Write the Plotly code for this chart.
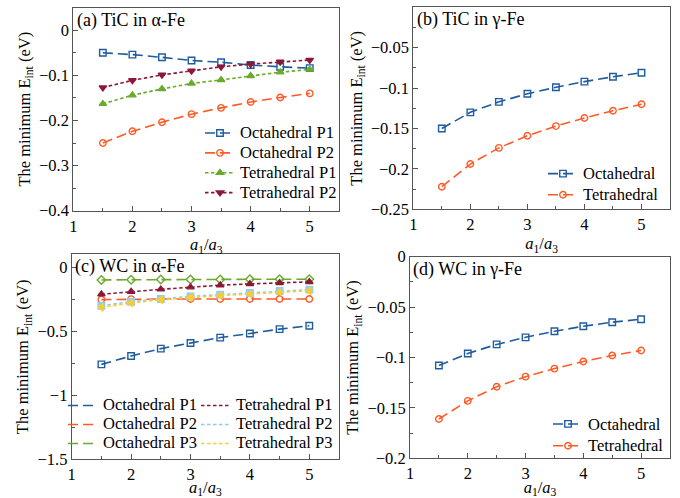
import plotly.graph_objects as go

# ---------------- data ----------------
ratio = [1.5, 2, 2.5, 3, 3.5, 4, 4.5, 5]

# (a) TiC in α-Fe
a_oct_p1 = [-0.050, -0.054, -0.060, -0.067, -0.071, -0.077, -0.081, -0.084]
a_oct_p2 = [-0.250, -0.224, -0.204, -0.186, -0.172, -0.159, -0.149, -0.140]
a_tet_p1 = [-0.163, -0.144, -0.130, -0.118, -0.110, -0.101, -0.093, -0.087]
a_tet_p2 = [-0.127, -0.111, -0.099, -0.090, -0.081, -0.075, -0.070, -0.066]

# (b) TiC in γ-Fe
b_oct = [-0.150, -0.130, -0.117, -0.107, -0.099, -0.092, -0.086, -0.081]
b_tet = [-0.222, -0.194, -0.174, -0.159, -0.147, -0.137, -0.128, -0.120]

# (c) WC in α-Fe
c_oct_p1 = [-0.759, -0.694, -0.636, -0.592, -0.550, -0.518, -0.484, -0.458]
c_oct_p2 = [-0.254, -0.250, -0.249, -0.249, -0.249, -0.249, -0.249, -0.249]
c_oct_p3 = [-0.100, -0.098, -0.097, -0.096, -0.096, -0.095, -0.095, -0.095]
c_tet_p1 = [-0.212, -0.191, -0.173, -0.157, -0.141, -0.131, -0.123, -0.115]
c_tet_p2 = [-0.301, -0.270, -0.249, -0.228, -0.215, -0.202, -0.186, -0.176]
c_tet_p3 = [-0.314, -0.280, -0.254, -0.236, -0.222, -0.210, -0.196, -0.184]

# (d) WC in γ-Fe
d_oct = [-0.108, -0.096, -0.087, -0.080, -0.074, -0.069, -0.065, -0.062]
d_tet = [-0.161, -0.143, -0.129, -0.119, -0.111, -0.104, -0.098, -0.093]

panel_titles = ["(a) TiC in α-Fe", "(b) TiC in γ-Fe", "(c) WC in α-Fe", "(d) WC in γ-Fe"]

# ---------------- style ----------------
FONT = "'Liberation Serif', 'Times New Roman', Times, serif"
BLUE = "#1f5c9e"
ORANGE = "#ff5a26"
GREEN = "#6aaa2c"
DRED = "#8c1838"
LBLUE = "#8fcdf5"
YELLOW = "#ffcb2e"
OCT_DASH = "10px,5px"
TET_DASH = "3.5px,2.5px"
LW = 1.6


def big(name):
    return '<span style="font-size:16.5px">' + name + '</span>'


fig = go.Figure()


def add(x, y, name, color, dash, symbol, xa, ya, legend, showlegend=True, mode="lines+markers"):
    fig.add_trace(go.Scatter(
        x=x, y=y, name=big(name), mode=mode,
        line=dict(color=color, dash=dash, width=LW),
        marker=dict(symbol=symbol, size=6.5, color=color, line=dict(color=color, width=1.4)),
        xaxis=xa, yaxis=ya, legend=legend, showlegend=showlegend,
    ))


# (a)
add(ratio, a_oct_p1, "Octahedral P1", BLUE, OCT_DASH, "square-open", "x", "y", "legend")
add(ratio, a_oct_p2, "Octahedral P2", ORANGE, OCT_DASH, "circle-open", "x", "y", "legend")
add(ratio, a_tet_p1, "Tetrahedral P1", GREEN, TET_DASH, "triangle-up", "x", "y", "legend")
add(ratio, a_tet_p2, "Tetrahedral P2", DRED, TET_DASH, "triangle-down", "x", "y", "legend")

# (b)
add(ratio, b_oct, "Octahedral", BLUE, OCT_DASH, "square-open", "x2", "y2", "legend2")
add(ratio, b_tet, "Tetrahedral", ORANGE, OCT_DASH, "circle-open", "x2", "y2", "legend2")

# (c): lines carry the legend, markers drawn separately (legend shows lines only)
c_series = [
    (c_oct_p1, "Octahedral P1", BLUE, OCT_DASH, "square-open", "legend3"),
    (c_oct_p2, "Octahedral P2", ORANGE, OCT_DASH, "circle-open", "legend3"),
    (c_oct_p3, "Octahedral P3", GREEN, OCT_DASH, "diamond-open", "legend3"),
    (c_tet_p1, "Tetrahedral P1", DRED, TET_DASH, "triangle-up", "legend4"),
    (c_tet_p2, "Tetrahedral P2", LBLUE, TET_DASH, "square", "legend4"),
    (c_tet_p3, "Tetrahedral P3", YELLOW, TET_DASH, "triangle-left", "legend4"),
]
for ys, nm, col, dsh, sym, lg in c_series:
    add(ratio, ys, nm, col, dsh, sym, "x3", "y3", lg, showlegend=True, mode="lines")
    add(ratio, ys, nm, col, dsh, sym, "x3", "y3", lg, showlegend=False, mode="markers")

# (d)
add(ratio, d_oct, "Octahedral", BLUE, OCT_DASH, "square-open", "x4", "y4", "legend5")
add(ratio, d_tet, "Tetrahedral", ORANGE, OCT_DASH, "circle-open", "x4", "y4", "legend5")

# ---------------- axes ----------------
W, H = 680, 498
AXC = "#555555"


def xax(dom, anchor):
    return dict(domain=dom, anchor=anchor, range=[1, 5.5], tick0=1, dtick=1,
                showline=True, mirror=True, linecolor=AXC, linewidth=1,
                ticks="inside", ticklen=5, tickcolor=AXC, tickwidth=1,
                minor=dict(ticks="inside", ticklen=3, dtick=0.5, tickcolor=AXC),
                showgrid=False, zeroline=False, automargin=False,
                tickfont=dict(family=FONT, size=16.5, color="black"),
                title=dict(text="<i>a</i><sub>1</sub>/<i>a</i><sub>3</sub>",
                           font=dict(family=FONT, size=16.5, color="black"), standoff=1))


def yax(dom, anchor, rng, dt):
    return dict(domain=dom, anchor=anchor, range=rng, tick0=0, dtick=dt,
                showline=True, mirror=True, linecolor=AXC, linewidth=1,
                ticks="inside", ticklen=5, tickcolor=AXC, tickwidth=1,
                minor=dict(ticks="inside", ticklen=3, dtick=dt / 2, tickcolor=AXC),
                showgrid=False, zeroline=False, automargin=False,
                tickfont=dict(family=FONT, size=16.5, color="black"),
                title=dict(text="The minimum E<sub>int</sub> (eV)",
                           font=dict(family=FONT, size=16.5, color="black"), standoff=4))


xa_dom = [[73.3 / W, 339.3 / W], [413.3 / W, 670 / W], [71.7 / W, 339 / W], [410 / W, 670 / W]]
ya_dom = [[1 - 210.7 / H, 1 - 7.7 / H], [1 - 209.3 / H, 1 - 7.3 / H],
          [1 - 459.3 / H, 1 - 254.3 / H], [1 - 458.3 / H, 1 - 256.7 / H]]

EPS = 1e-6
fig.update_layout(
    xaxis=xax(xa_dom[0], "y"), yaxis=yax(ya_dom[0], "x", [-0.4, 0.05], 0.1),
    xaxis2=xax(xa_dom[1], "y2"), yaxis2=yax(ya_dom[1], "x2", [-0.25 - EPS, 0 + EPS], 0.05),
    xaxis3=xax(xa_dom[2], "y3"), yaxis3=yax(ya_dom[2], "x3", [-1.5, 0.1], 0.5),
    xaxis4=xax(xa_dom[3], "y4"), yaxis4=yax(ya_dom[3], "x4", [-0.2 - EPS, 0 + EPS], 0.05),
)

# ---------------- legends ----------------
def leg(x, y, size):
    return dict(x=x / W, y=1 - y / H, xanchor="left", yanchor="top",
                bgcolor="rgba(0,0,0,0)", borderwidth=0,
                font=dict(family=FONT, size=size, color="black"),
                itemwidth=30, tracegroupgap=0)

fig.update_layout(
    legend=leg(200, 118, 13),
    legend2=leg(543, 158, 14),
    legend3=leg(63, 391, 12),
    legend4=leg(196, 391, 12),
    legend5=leg(548, 408, 14.5),
)

# ---------------- panel labels ----------------
anchors = [("x", "y"), ("x2", "y2"), ("x3", "y3"), ("x4", "y4")]
for (xr, yr), txt in zip(anchors, panel_titles):
    fig.add_annotation(text=txt, xref=xr + " domain", yref=yr + " domain",
                       x=0.005, y=1.0, xanchor="left", yanchor="top", showarrow=False,
                       font=dict(family=FONT, size=18, color="black"))

fig.update_layout(width=W, height=H, margin=dict(l=0, r=0, t=0, b=0),
                  plot_bgcolor="white", paper_bgcolor="white",
                  font=dict(family=FONT, color="black"))

fig.write_html("out.html", config={"displayModeBar": False},
               post_script="document.body.style.margin='0px';")
